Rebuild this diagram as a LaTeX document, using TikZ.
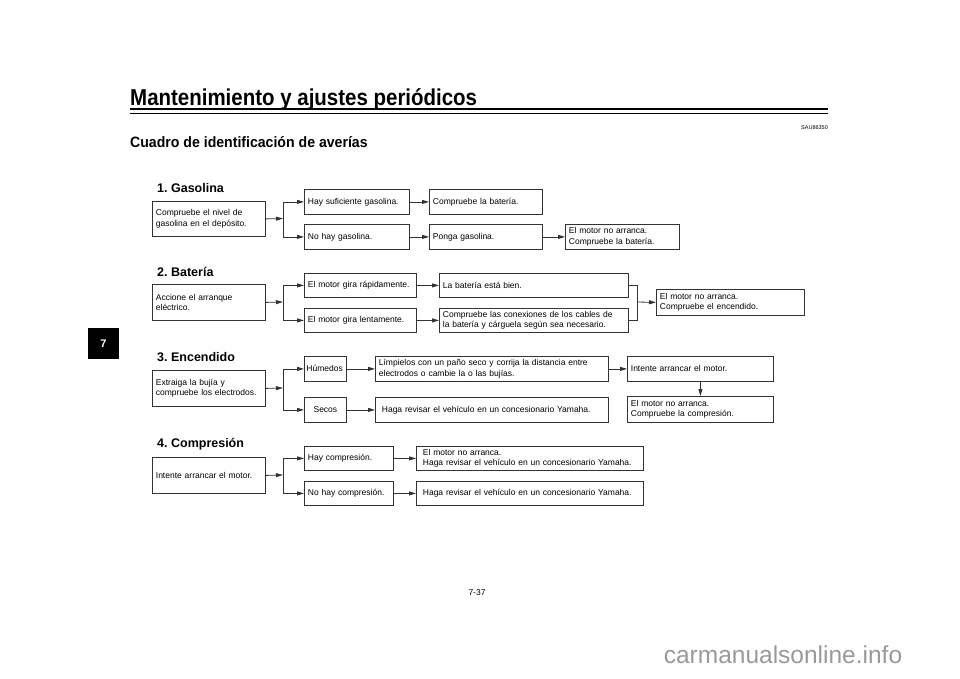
\documentclass[tikz,border=0pt]{standalone}
\usepackage{fontspec}
\setmainfont{Liberation Sans}
\usetikzlibrary{arrows.meta}
\frenchspacing

\begin{document}
\begin{tikzpicture}[x=1pt, y=-1pt,
  box/.style={draw=black!80, line width=0.8pt, inner xsep=3.5pt, inner ysep=1pt, align=left, anchor=north west, font=\fontsize{8.5}{10.5}\selectfont},
  link/.style={line width=0.8pt, black!80},
  arr/.style={link, -{Triangle[length=7pt,width=4pt]}},
  head/.style={anchor=west, inner sep=0pt, font=\bfseries\fontsize{12.5}{14}\selectfont}]
\useasboundingbox (0,0) rectangle (960,679);

% page head
\node[anchor=base west, inner sep=0] (title) at (130,106) {\scalebox{0.89}[1]{\fontsize{23}{25}\selectfont\bfseries Mantenimiento y ajustes periódicos}};
\draw[line width=2pt] (130,109.5) -- (828,109.5);
\draw[line width=0.7pt] (130,113) -- (828,113);
\node[anchor=east, inner sep=0, font=\fontsize{5.5}{6}\selectfont] (code) at (828,128) {SAU86350};
\node[anchor=west, inner sep=0] (sub) at (130,142) {\scalebox{0.94}[1]{\fontsize{15}{17}\selectfont\bfseries Cuadro de identificación de averías}};
\node[fill=black, minimum size=31pt, text=white, font=\bfseries\fontsize{11}{12}\selectfont] (tab) at (103.5,343.5) {7};

% 1. Gasolina
\node[head] (h1) at (157,188) {1. Gasolina};
\node[box, text width=106pt, minimum height=35pt] (a1) at (152,201) {Compruebe el nivel de\\gasolina en el depósito.};
\node[box, text width=98pt, minimum height=25pt] (b1) at (304,189) {Hay suficiente gasolina.};
\node[box, text width=98pt, minimum height=25pt] (b2) at (304,224) {No hay gasolina.};
\node[box, text width=106pt, minimum height=25pt] (c1) at (429,189) {Compruebe la batería.};
\node[box, text width=106pt, minimum height=25pt] (c2) at (429,224) {Ponga gasolina.};
\node[box, text width=107pt, minimum height=25pt] (d2) at (565,224) {El motor no arranca.\\Compruebe la batería.};
\coordinate (j1) at (283,218.5);
\draw[arr] (a1.east) -- (j1);
\draw[link] (j1 |- b1.west) -- (j1 |- b2.west);
\draw[arr] (j1 |- b1.west) -- (b1.west);
\draw[arr] (j1 |- b2.west) -- (b2.west);
\draw[arr] (b1.east) -- (c1.west);
\draw[arr] (b2.east) -- (c2.west);
\draw[arr] (c2.east) -- (d2.west);

% 2. Bateria
\node[head] (h2) at (157,272) {2. Batería};
\node[box, text width=106pt, minimum height=36pt] (a2) at (152,284) {Accione el arranque\\eléctrico.};
\node[box, text width=105pt, minimum height=24pt] (b3) at (304,273) {El motor gira rápidamente.};
\node[box, text width=105pt, minimum height=24pt] (b4) at (304,308) {El motor gira lentamente.};
\node[box, text width=182pt, minimum height=24pt] (c3) at (439,273) {La batería está bien.};
\node[box, text width=182pt, minimum height=24pt] (c4) at (439,308) {Compruebe las conexiones de los cables de\\la batería y cárguela según sea necesario.};
\node[box, text width=141pt, minimum height=26pt] (d3) at (656,289) {El motor no arranca.\\Compruebe el encendido.};
\coordinate (j2) at (283,302);
\coordinate (k2) at (637,302);
\draw[arr] (a2.east) -- (j2);
\draw[link] (j2 |- b3.west) -- (j2 |- b4.west);
\draw[arr] (j2 |- b3.west) -- (b3.west);
\draw[arr] (j2 |- b4.west) -- (b4.west);
\draw[arr] (b3.east) -- (c3.west);
\draw[arr] (b4.east) -- (c4.west);
\draw[link] (c3.east) -| (k2) |- (c4.east);
\draw[arr] (k2) -- (d3.west);

% 3. Encendido
\node[head] (h3) at (157,357) {3. Encendido};
\node[box, text width=106pt, minimum height=36pt] (a3) at (152,370) {Extraiga la bujía y\\compruebe los electrodos.};
\node[box, text width=38pt, inner xsep=2pt, minimum height=25pt] (b5) at (304,356) {Húmedos};
\node[box, text width=38pt, inner xsep=2pt, minimum height=25pt, align=center] (b6) at (304,397) {Secos};
\node[box, text width=226pt, minimum height=25pt] (c5) at (375,356) {Límpielos con un paño seco y corrija la distancia entre\\electrodos o cambie la o las bujías.};
\node[box, text width=220pt, inner xsep=6.5pt, minimum height=25pt] (c6) at (375,397) {Haga revisar el vehículo en un concesionario Yamaha.};
\node[box, text width=139pt, minimum height=25pt] (e1) at (627,356) {Intente arrancar el motor.};
\node[box, text width=139pt, minimum height=26pt] (e2) at (627,396) {El motor no arranca.\\Compruebe la compresión.};
\coordinate (j3) at (283,388);
\draw[arr] (a3.east) -- (j3);
\draw[link] (j3 |- b5.west) -- (j3 |- b6.west);
\draw[arr] (j3 |- b5.west) -- (b5.west);
\draw[arr] (j3 |- b6.west) -- (b6.west);
\draw[arr] (b5.east) -- (c5.west);
\draw[arr] (b6.east) -- (c6.west);
\draw[arr] (c5.east) -- (e1.west);
\draw[arr] (e1.south) -- (e2.north);

% 4. Compresion
\node[head] (h4) at (157,444) {4. Compresión};
\node[box, text width=106pt, minimum height=36pt] (a4) at (152,457) {Intente arrancar el motor.};
\node[box, text width=82pt, minimum height=24pt] (b7) at (304,446) {Hay compresión.};
\node[box, text width=82pt, minimum height=24pt] (b8) at (304,481) {No hay compresión.};
\node[box, text width=214pt, inner xsep=6.5pt, minimum height=24pt] (c7) at (416,446) {El motor no arranca.\\Haga revisar el vehículo en un concesionario Yamaha.};
\node[box, text width=214pt, inner xsep=6.5pt, minimum height=24pt] (c8) at (416,481) {Haga revisar el vehículo en un concesionario Yamaha.};
\coordinate (j4) at (283,475);
\draw[arr] (a4.east) -- (j4);
\draw[link] (j4 |- b7.west) -- (j4 |- b8.west);
\draw[arr] (j4 |- b7.west) -- (b7.west);
\draw[arr] (j4 |- b8.west) -- (b8.west);
\draw[arr] (b7.east) -- (c7.west);
\draw[arr] (b8.east) -- (c8.west);

% page foot
\node[font=\fontsize{8.5}{10}\selectfont] (page) at (477,593) {7-37};
\node[text=black!40, font=\fontsize{24.5}{27}\selectfont] (mark) at (783,655) {carmanualsonline.info};
\end{tikzpicture}
\end{document}
